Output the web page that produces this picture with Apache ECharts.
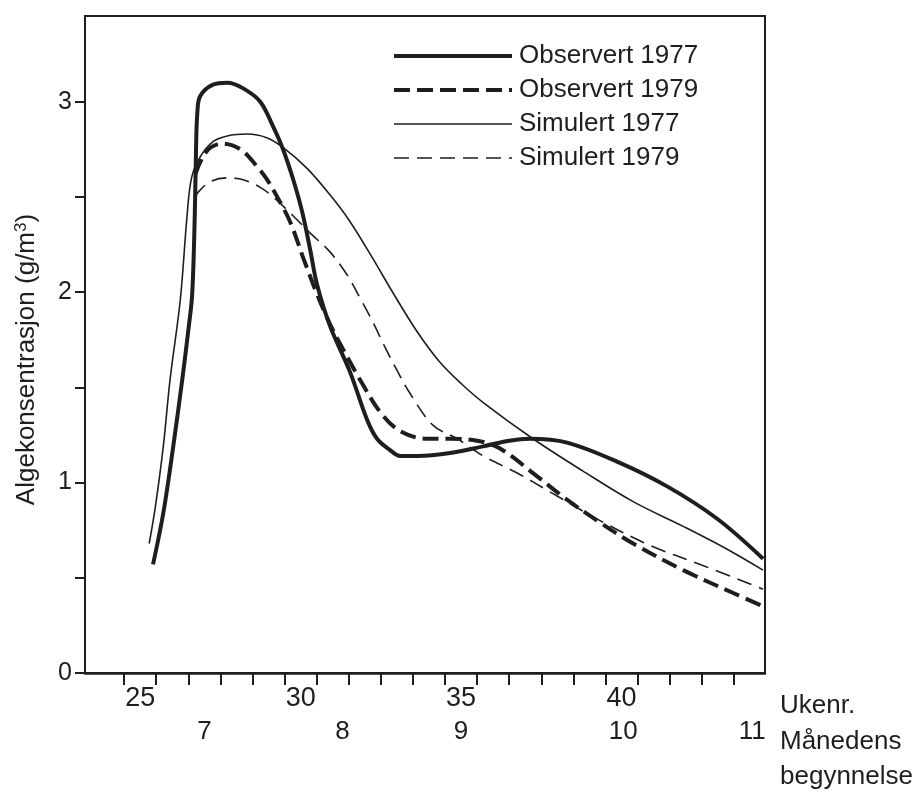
<!DOCTYPE html>
<html>
<head>
<meta charset="utf-8">
<script src="https://cdn.jsdelivr.net/npm/echarts@6/dist/echarts.min.js"></script>
<style>
  html, body { margin: 0; padding: 0; background: #fff; }
  #chart { width: 921px; height: 795px; }
</style>
</head>
<body>
<div id="chart"></div>
<script>
// Week number (x) and algae concentration in g/m3 (y)
const obs1977 = [
  [25.40, 0.57], [25.72, 0.84], [26.03, 1.19], [26.31, 1.54], [26.50, 1.80],
  [26.62, 1.99], [26.70, 2.40], [26.74, 2.75], [26.78, 2.94], [26.87, 3.03],
  [27.27, 3.09], [27.71, 3.10], [28.21, 3.07], [28.74, 3.00], [29.14, 2.87],
  [29.45, 2.75], [29.77, 2.59], [30.05, 2.42], [30.30, 2.22], [30.51, 2.04],
  [30.92, 1.82], [31.54, 1.58], [32.07, 1.33], [32.38, 1.23], [32.79, 1.17],
  [33.10, 1.14], [33.63, 1.14], [34.66, 1.155], [35.69, 1.19], [36.50, 1.22],
  [37.15, 1.23], [38.30, 1.21], [39.86, 1.11], [41.42, 0.98], [42.98, 0.81],
  [44.41, 0.60]
];
const obs1979 = [
  [26.72, 2.62], [26.95, 2.71], [27.20, 2.76], [27.55, 2.78], [28.12, 2.75],
  [28.64, 2.66], [28.96, 2.59], [29.27, 2.50], [29.67, 2.37], [30.08, 2.18],
  [30.51, 1.99], [30.92, 1.83], [31.32, 1.70], [31.85, 1.54], [32.48, 1.37],
  [33.10, 1.27], [33.94, 1.23], [34.66, 1.23], [35.50, 1.22], [36.20, 1.18],
  [37.24, 1.05], [38.30, 0.91], [39.33, 0.79], [40.36, 0.68], [41.92, 0.54],
  [43.48, 0.42], [44.41, 0.35]
];
const sim1977 = [
  [25.28, 0.68], [25.47, 0.87], [25.72, 1.19], [25.93, 1.54], [26.25, 1.96],
  [26.46, 2.40], [26.60, 2.60], [26.87, 2.71], [27.27, 2.79], [27.71, 2.82],
  [28.33, 2.83], [28.96, 2.81], [29.45, 2.76], [30.20, 2.65], [30.92, 2.51],
  [31.50, 2.38], [32.20, 2.19], [32.90, 1.99], [33.60, 1.80], [34.30, 1.64],
  [35.00, 1.52], [35.69, 1.42], [37.24, 1.23], [38.80, 1.06], [40.36, 0.90],
  [41.92, 0.77], [43.29, 0.65], [44.41, 0.54]
];
const sim1979 = [
  [26.74, 2.50], [26.78, 2.52], [27.18, 2.58], [27.71, 2.60], [28.21, 2.59],
  [28.74, 2.55], [29.14, 2.50], [29.77, 2.40], [30.30, 2.31], [30.92, 2.21],
  [31.45, 2.09], [31.85, 1.97], [32.26, 1.84], [32.60, 1.72], [33.00, 1.59],
  [33.40, 1.47], [34.13, 1.30], [34.88, 1.23], [35.69, 1.14], [36.75, 1.05],
  [37.78, 0.95], [39.33, 0.80], [40.89, 0.67], [42.45, 0.57], [44.41, 0.44]
];

// Axis labelling
const weekLabels = [25, 30, 35, 40];
const weekTicks = [24.5, 25.5, 26.5, 27.5, 28.5, 29.5, 30.5, 31.5, 32.5, 33.5,
                   34.5, 35.5, 36.5, 37.5, 38.5, 39.5, 40.5, 41.5, 42.5, 43.5];
const monthNames = ['7', '8', '9', '10', '11'];
const monthStarts = [27.0, 31.3, 35.0, 40.05, 44.07];
const yLabels = [0, 1, 2, 3];
const yTicks = [0, 0.5, 1, 1.5, 2, 2.5, 3];

const ink = '#1e1e1e';
const font = 'Liberation Sans';
const thick = 4;
const thin = 1.6;
const dashThick = [16, 7];
const dashThin = [15, 8];

const chart = echarts.init(document.getElementById('chart'), null, { renderer: 'canvas' });

function lineSeries(name, data, width, dash, z) {
  return {
    name: name, type: 'line', data: data,
    showSymbol: false, symbol: 'none',
    smooth: 0.35,
    lineStyle: { color: ink, width: width, type: dash || 'solid' },
    itemStyle: { color: ink },
    z: z
  };
}

function legendItem(name, width, dash) {
  return {
    name: name,
    itemStyle: { color: 'rgba(0,0,0,0)', borderWidth: 0 },
    lineStyle: { color: ink, width: width, type: dash || 'solid' }
  };
}

chart.setOption({
  backgroundColor: '#fff',
  animation: false,
  textStyle: { fontFamily: font, color: ink },
  grid: {
    left: 85, right: 156, top: 16, bottom: 122,
    show: true, borderColor: ink, borderWidth: 2, backgroundColor: 'transparent'
  },
  legend: {
    orient: 'vertical',
    left: 392, top: 42, padding: 0,
    itemWidth: 118, itemHeight: 14, itemGap: 6,
    itemStyle: { color: 'rgba(0,0,0,0)', borderWidth: 0 },
    textStyle: { fontSize: 26, color: ink, fontFamily: font, lineHeight: 28, padding: [0, 0, 0, 2] },
    data: [
      legendItem('Observert 1977', thick),
      legendItem('Observert 1979', thick, dashThick),
      legendItem('Simulert 1977', thin),
      legendItem('Simulert 1979', thin, dashThin)
    ]
  },
  xAxis: [
    {
      type: 'value', min: 23.28, max: 44.47, position: 'bottom',
      splitLine: { show: false },
      axisLine: { show: true, onZero: false, lineStyle: { color: ink, width: 2.5 } },
      axisTick: { show: true, customValues: weekTicks, length: 12, lineStyle: { color: ink, width: 2 } },
      axisLabel: { customValues: weekLabels, fontSize: 27, color: ink, margin: 12, fontFamily: font },
      name: 'Ukenr.', nameLocation: 'end', nameGap: 15,
      nameTextStyle: { fontSize: 26, color: ink, fontFamily: font, align: 'left', verticalAlign: 'top', padding: [20, 0, 0, 0] }
    },
    {
      type: 'value', min: 23.28, max: 44.47, position: 'bottom',
      splitLine: { show: false },
      axisLine: { show: false },
      axisTick: { show: false },
      axisLabel: {
        customValues: monthStarts, fontSize: 26, color: ink, margin: 46, fontFamily: font,
        formatter: function (v) {
          const i = monthStarts.findIndex(function (m) { return Math.abs(m - v) < 1e-6; });
          return i >= 0 ? monthNames[i] : '';
        }
      },
      name: 'Månedens\nbegynnelse', nameLocation: 'end', nameGap: 15,
      nameTextStyle: { fontSize: 26, color: ink, fontFamily: font, align: 'left', verticalAlign: 'top', lineHeight: 35, padding: [51, 0, 0, 0] }
    }
  ],
  yAxis: {
    type: 'value', min: 0, max: 3.45,
    splitLine: { show: false },
    axisLine: { show: true, lineStyle: { color: ink, width: 2 } },
    axisTick: { show: true, customValues: yTicks, length: 10, lineStyle: { color: ink, width: 2 } },
    axisLabel: { customValues: yLabels, fontSize: 25, color: ink, margin: 13, fontFamily: font },
    name: 'Algekonsentrasjon (g/m{sup|3})',
    nameLocation: 'middle', nameGap: 45, nameRotate: 90,
    nameTextStyle: {
      fontSize: 26, color: ink, fontFamily: font, padding: [0, 30, 0, 0],
      rich: { sup: { fontSize: 17, verticalAlign: 'top', padding: [0, 0, 10, 0], fontFamily: font, color: ink } }
    }
  },
  series: [
    lineSeries('Observert 1977', obs1977, thick, null, 4),
    lineSeries('Observert 1979', obs1979, thick, dashThick, 3),
    lineSeries('Simulert 1977', sim1977, thin, null, 2),
    lineSeries('Simulert 1979', sim1979, thin, dashThin, 2)
  ]
});
</script>
</body>
</html>
